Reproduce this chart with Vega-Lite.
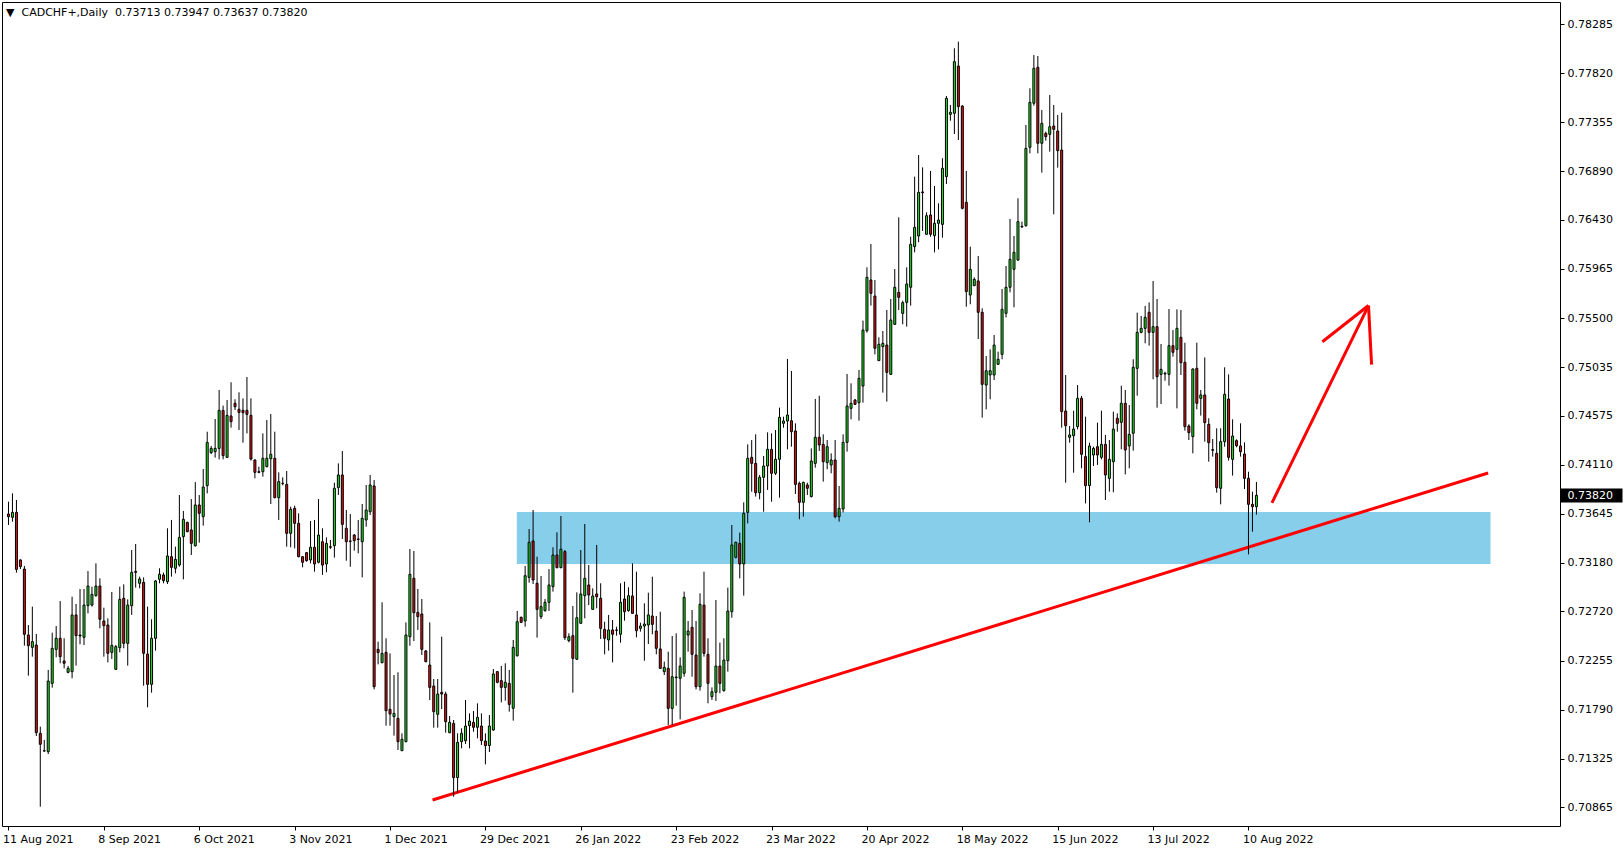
{
"$schema": "https://vega.github.io/schema/vega-lite/v6.json",
"width": 1558, "height": 824,
"autosize": {"type": "none"},
"padding": {"left": 2, "top": 2, "right": 64, "bottom": 24},
"background": "white",
"config": {"view": {"stroke": "black", "strokeWidth": 1}, "font": "DejaVu Sans"},
"title": {"text": "▼\u00a0\u00a0CADCHF+,Daily\u00a0\u00a00.73713 0.73947 0.73637 0.73820", "anchor": "start", "frame": "group", "orient": "top", "offset": -16, "font": "DejaVu Sans", "fontSize": 11, "fontWeight": "normal", "color": "black", "dx": 4},
"datasets": {
"zone": [{"x": 127.9, "x2": 372.9, "y": 0.73662, "y2": 0.7317}],
"lines": [
{"name": "trend", "x": 106.7, "y": 0.70934, "x2": 372.3, "y2": 0.74032},
{"name": "arrow", "x": 317.9, "y": 0.73748, "x2": 342.2, "y2": 0.75618},
{"name": "head1", "x": 330.6, "y": 0.75275, "x2": 342.2, "y2": 0.75618},
{"name": "head2", "x": 342.2, "y": 0.75618, "x2": 342.97, "y2": 0.75059}
],
"candles": [
{"bar":0,"open":0.73643,"high":0.7376,"low":0.73539,"close":0.73618},
{"bar":1,"open":0.73612,"high":0.73839,"low":0.73571,"close":0.73659},
{"bar":2,"open":0.73659,"high":0.73776,"low":0.73088,"close":0.73119},
{"bar":3,"open":0.73208,"high":0.73214,"low":0.73122,"close":0.73145},
{"bar":4,"open":0.73122,"high":0.73151,"low":0.72396,"close":0.72504},
{"bar":5,"open":0.72497,"high":0.72592,"low":0.72112,"close":0.72396},
{"bar":6,"open":0.7238,"high":0.72766,"low":0.72292,"close":0.72434},
{"bar":7,"open":0.72402,"high":0.72507,"low":0.7154,"close":0.71572},
{"bar":8,"open":0.71566,"high":0.71629,"low":0.70871,"close":0.71462},
{"bar":9,"open":0.71398,"high":0.71503,"low":0.71392,"close":0.71401},
{"bar":10,"open":0.71392,"high":0.72166,"low":0.7137,"close":0.72061},
{"bar":11,"open":0.72039,"high":0.72519,"low":0.71998,"close":0.72371},
{"bar":12,"open":0.72361,"high":0.72582,"low":0.72286,"close":0.72466},
{"bar":13,"open":0.72466,"high":0.72819,"low":0.72229,"close":0.72292},
{"bar":14,"open":0.72251,"high":0.72466,"low":0.72181,"close":0.72229},
{"bar":15,"open":0.72144,"high":0.72204,"low":0.72134,"close":0.72181},
{"bar":16,"open":0.7215,"high":0.7286,"low":0.72087,"close":0.72687},
{"bar":17,"open":0.72687,"high":0.72791,"low":0.72207,"close":0.72491},
{"bar":18,"open":0.72497,"high":0.72933,"low":0.72409,"close":0.72488},
{"bar":19,"open":0.72475,"high":0.72933,"low":0.72402,"close":0.72781},
{"bar":20,"open":0.72775,"high":0.73103,"low":0.72702,"close":0.72961},
{"bar":21,"open":0.72781,"high":0.72955,"low":0.72766,"close":0.72882},
{"bar":22,"open":0.7287,"high":0.73176,"low":0.7286,"close":0.72961},
{"bar":23,"open":0.72961,"high":0.73034,"low":0.7256,"close":0.72646},
{"bar":24,"open":0.7263,"high":0.72756,"low":0.72292,"close":0.72586},
{"bar":25,"open":0.72592,"high":0.72655,"low":0.72238,"close":0.72324},
{"bar":26,"open":0.72333,"high":0.72905,"low":0.7227,"close":0.72399},
{"bar":27,"open":0.72172,"high":0.72402,"low":0.72166,"close":0.72387},
{"bar":28,"open":0.72377,"high":0.72955,"low":0.72333,"close":0.72835},
{"bar":29,"open":0.72845,"high":0.72977,"low":0.72371,"close":0.72418},
{"bar":30,"open":0.72418,"high":0.72835,"low":0.72207,"close":0.72781},
{"bar":31,"open":0.72775,"high":0.73302,"low":0.72687,"close":0.73091},
{"bar":32,"open":0.731,"high":0.73359,"low":0.72946,"close":0.73091},
{"bar":33,"open":0.72987,"high":0.7305,"low":0.72939,"close":0.73028},
{"bar":34,"open":0.72996,"high":0.73043,"low":0.72017,"close":0.72324},
{"bar":35,"open":0.72317,"high":0.72766,"low":0.71812,"close":0.7203},
{"bar":36,"open":0.7203,"high":0.72646,"low":0.71951,"close":0.72466},
{"bar":37,"open":0.72466,"high":0.73018,"low":0.72349,"close":0.73009},
{"bar":38,"open":0.73025,"high":0.73129,"low":0.72987,"close":0.73072},
{"bar":39,"open":0.73066,"high":0.73088,"low":0.72987,"close":0.73012},
{"bar":40,"open":0.73002,"high":0.73508,"low":0.7298,"close":0.73246},
{"bar":41,"open":0.73239,"high":0.73587,"low":0.7305,"close":0.73138},
{"bar":42,"open":0.73129,"high":0.73334,"low":0.73081,"close":0.73214},
{"bar":43,"open":0.7316,"high":0.73823,"low":0.73144,"close":0.73422},
{"bar":44,"open":0.73429,"high":0.73672,"low":0.73024,"close":0.73593},
{"bar":45,"open":0.73564,"high":0.73571,"low":0.7347,"close":0.73476},
{"bar":46,"open":0.73492,"high":0.73785,"low":0.73255,"close":0.73365},
{"bar":47,"open":0.73343,"high":0.73946,"low":0.73334,"close":0.73729},
{"bar":48,"open":0.73729,"high":0.73823,"low":0.73372,"close":0.7365},
{"bar":49,"open":0.73618,"high":0.7407,"low":0.73533,"close":0.73899},
{"bar":50,"open":0.73912,"high":0.74423,"low":0.73839,"close":0.74322},
{"bar":51,"open":0.74224,"high":0.74287,"low":0.74212,"close":0.74265},
{"bar":52,"open":0.74234,"high":0.74543,"low":0.74177,"close":0.74265},
{"bar":53,"open":0.74265,"high":0.74818,"low":0.74161,"close":0.74625},
{"bar":54,"open":0.74625,"high":0.7467,"low":0.74161,"close":0.74196},
{"bar":55,"open":0.7418,"high":0.74723,"low":0.74174,"close":0.74578},
{"bar":56,"open":0.74572,"high":0.74891,"low":0.74461,"close":0.74518},
{"bar":57,"open":0.74692,"high":0.7473,"low":0.74629,"close":0.7466},
{"bar":58,"open":0.74635,"high":0.74796,"low":0.74439,"close":0.74606},
{"bar":59,"open":0.74625,"high":0.74739,"low":0.74319,"close":0.74603},
{"bar":60,"open":0.74625,"high":0.74941,"low":0.74407,"close":0.74587},
{"bar":61,"open":0.74578,"high":0.74739,"low":0.74149,"close":0.74164},
{"bar":62,"open":0.74155,"high":0.74161,"low":0.73981,"close":0.74038},
{"bar":63,"open":0.74044,"high":0.74092,"low":0.74029,"close":0.74038},
{"bar":64,"open":0.74044,"high":0.74407,"low":0.73997,"close":0.74171},
{"bar":65,"open":0.74092,"high":0.74534,"low":0.74085,"close":0.74171},
{"bar":66,"open":0.74167,"high":0.74591,"low":0.73738,"close":0.74209},
{"bar":67,"open":0.74171,"high":0.74423,"low":0.73792,"close":0.73798},
{"bar":68,"open":0.73798,"high":0.74038,"low":0.73587,"close":0.7395},
{"bar":69,"open":0.73934,"high":0.73991,"low":0.73915,"close":0.73931},
{"bar":70,"open":0.73924,"high":0.74051,"low":0.73334,"close":0.7346},
{"bar":71,"open":0.7346,"high":0.73713,"low":0.73328,"close":0.73688},
{"bar":72,"open":0.73697,"high":0.73722,"low":0.73318,"close":0.73555},
{"bar":73,"open":0.73555,"high":0.7365,"low":0.73233,"close":0.73239},
{"bar":74,"open":0.73239,"high":0.73245,"low":0.73138,"close":0.73186},
{"bar":75,"open":0.73277,"high":0.73283,"low":0.73192,"close":0.73201},
{"bar":76,"open":0.73208,"high":0.73577,"low":0.73176,"close":0.73328},
{"bar":77,"open":0.73328,"high":0.73587,"low":0.73097,"close":0.7317},
{"bar":78,"open":0.73186,"high":0.73785,"low":0.73176,"close":0.73444},
{"bar":79,"open":0.73381,"high":0.73508,"low":0.73066,"close":0.7316},
{"bar":80,"open":0.7317,"high":0.73422,"low":0.73091,"close":0.73365},
{"bar":81,"open":0.73334,"high":0.73397,"low":0.73312,"close":0.73328},
{"bar":82,"open":0.73343,"high":0.7394,"low":0.7323,"close":0.73887},
{"bar":83,"open":0.73893,"high":0.74123,"low":0.73823,"close":0.74013},
{"bar":84,"open":0.74013,"high":0.7424,"low":0.73407,"close":0.73545},
{"bar":85,"open":0.73508,"high":0.73681,"low":0.73201,"close":0.73381},
{"bar":86,"open":0.73388,"high":0.73643,"low":0.73144,"close":0.73384},
{"bar":87,"open":0.73444,"high":0.73454,"low":0.73296,"close":0.73391},
{"bar":88,"open":0.73407,"high":0.73587,"low":0.73271,"close":0.73403},
{"bar":89,"open":0.73381,"high":0.73738,"low":0.73043,"close":0.73602},
{"bar":90,"open":0.73587,"high":0.73918,"low":0.73523,"close":0.73681},
{"bar":91,"open":0.73665,"high":0.74013,"low":0.73634,"close":0.73918},
{"bar":92,"open":0.73909,"high":0.73965,"low":0.71982,"close":0.72008},
{"bar":93,"open":0.72361,"high":0.72434,"low":0.72219,"close":0.7233},
{"bar":94,"open":0.72235,"high":0.72807,"low":0.72229,"close":0.72323},
{"bar":95,"open":0.72333,"high":0.72466,"low":0.71638,"close":0.7178},
{"bar":96,"open":0.71793,"high":0.72323,"low":0.71638,"close":0.71749},
{"bar":97,"open":0.71724,"high":0.72118,"low":0.71544,"close":0.71755},
{"bar":98,"open":0.71708,"high":0.72144,"low":0.71408,"close":0.71487},
{"bar":99,"open":0.71401,"high":0.71566,"low":0.71401,"close":0.71509},
{"bar":100,"open":0.71487,"high":0.72617,"low":0.7148,"close":0.72497},
{"bar":101,"open":0.72481,"high":0.73312,"low":0.72396,"close":0.73072},
{"bar":102,"open":0.73034,"high":0.73293,"low":0.7244,"close":0.72709},
{"bar":103,"open":0.72712,"high":0.72933,"low":0.72545,"close":0.72671},
{"bar":104,"open":0.72696,"high":0.72838,"low":0.72308,"close":0.72361},
{"bar":105,"open":0.72346,"high":0.72355,"low":0.72238,"close":0.72245},
{"bar":106,"open":0.72213,"high":0.72617,"low":0.71881,"close":0.72001},
{"bar":107,"open":0.72014,"high":0.7208,"low":0.71619,"close":0.71771},
{"bar":108,"open":0.71746,"high":0.7208,"low":0.71619,"close":0.71938},
{"bar":109,"open":0.71954,"high":0.72481,"low":0.71796,"close":0.71938},
{"bar":110,"open":0.71938,"high":0.7196,"low":0.71572,"close":0.71676},
{"bar":111,"open":0.71572,"high":0.7173,"low":0.71566,"close":0.7167},
{"bar":112,"open":0.7166,"high":0.71692,"low":0.70966,"close":0.71146},
{"bar":113,"open":0.71146,"high":0.71566,"low":0.71004,"close":0.7148},
{"bar":114,"open":0.71487,"high":0.71613,"low":0.71424,"close":0.71566},
{"bar":115,"open":0.71496,"high":0.71881,"low":0.71465,"close":0.71635},
{"bar":116,"open":0.71638,"high":0.71755,"low":0.71424,"close":0.71682},
{"bar":117,"open":0.7167,"high":0.71777,"low":0.71581,"close":0.71623},
{"bar":118,"open":0.71623,"high":0.7185,"low":0.71518,"close":0.71717},
{"bar":119,"open":0.71635,"high":0.71755,"low":0.71455,"close":0.71496},
{"bar":120,"open":0.71493,"high":0.71566,"low":0.71272,"close":0.71449},
{"bar":121,"open":0.7145,"high":0.71739,"low":0.71389,"close":0.71635},
{"bar":122,"open":0.71597,"high":0.72175,"low":0.71591,"close":0.72128},
{"bar":123,"open":0.7215,"high":0.72156,"low":0.72039,"close":0.72049},
{"bar":124,"open":0.72065,"high":0.72204,"low":0.71859,"close":0.72001},
{"bar":125,"open":0.72001,"high":0.72229,"low":0.71875,"close":0.72049},
{"bar":126,"open":0.72039,"high":0.72166,"low":0.71771,"close":0.7184},
{"bar":127,"open":0.71803,"high":0.7245,"low":0.71686,"close":0.7238},
{"bar":128,"open":0.72301,"high":0.72725,"low":0.72292,"close":0.72623},
{"bar":129,"open":0.72665,"high":0.72671,"low":0.72614,"close":0.72617},
{"bar":130,"open":0.7263,"high":0.73151,"low":0.72576,"close":0.73059},
{"bar":131,"open":0.73043,"high":0.73501,"low":0.72993,"close":0.73375},
{"bar":132,"open":0.73388,"high":0.73681,"low":0.7298,"close":0.73018},
{"bar":133,"open":0.72987,"high":0.73239,"low":0.72472,"close":0.7274},
{"bar":134,"open":0.72671,"high":0.73056,"low":0.72649,"close":0.72766},
{"bar":135,"open":0.72728,"high":0.72838,"low":0.72718,"close":0.72807},
{"bar":136,"open":0.72807,"high":0.73122,"low":0.72725,"close":0.72971},
{"bar":137,"open":0.72955,"high":0.73328,"low":0.72908,"close":0.73255},
{"bar":138,"open":0.73255,"high":0.7347,"low":0.73129,"close":0.73135},
{"bar":139,"open":0.73135,"high":0.73624,"low":0.73129,"close":0.73309},
{"bar":140,"open":0.73287,"high":0.73302,"low":0.7245,"close":0.72472},
{"bar":141,"open":0.72444,"high":0.72513,"low":0.72428,"close":0.72481},
{"bar":142,"open":0.72491,"high":0.72772,"low":0.71951,"close":0.72276},
{"bar":143,"open":0.72267,"high":0.72901,"low":0.7226,"close":0.72661},
{"bar":144,"open":0.72608,"high":0.73302,"low":0.72601,"close":0.72886},
{"bar":145,"open":0.7287,"high":0.73549,"low":0.72655,"close":0.73034},
{"bar":146,"open":0.72971,"high":0.7316,"low":0.72781,"close":0.72876},
{"bar":147,"open":0.7274,"high":0.72939,"low":0.72734,"close":0.72867},
{"bar":148,"open":0.72886,"high":0.7335,"low":0.7275,"close":0.7286},
{"bar":149,"open":0.72845,"high":0.72987,"low":0.72459,"close":0.7256},
{"bar":150,"open":0.72551,"high":0.72623,"low":0.72314,"close":0.72466},
{"bar":151,"open":0.7245,"high":0.72687,"low":0.72349,"close":0.72545},
{"bar":152,"open":0.72545,"high":0.72639,"low":0.72238,"close":0.72504},
{"bar":153,"open":0.72545,"high":0.72576,"low":0.72491,"close":0.72541},
{"bar":154,"open":0.72504,"high":0.72987,"low":0.72425,"close":0.72807},
{"bar":155,"open":0.72838,"high":0.73002,"low":0.72633,"close":0.72718},
{"bar":156,"open":0.72728,"high":0.72949,"low":0.72718,"close":0.7287},
{"bar":157,"open":0.72867,"high":0.73176,"low":0.72696,"close":0.72702},
{"bar":158,"open":0.72687,"high":0.73097,"low":0.72475,"close":0.72538},
{"bar":159,"open":0.7256,"high":0.72614,"low":0.72529,"close":0.72582},
{"bar":160,"open":0.72582,"high":0.72797,"low":0.72254,"close":0.72601},
{"bar":161,"open":0.72592,"high":0.72898,"low":0.72412,"close":0.72687},
{"bar":162,"open":0.72677,"high":0.7305,"low":0.72504,"close":0.72598},
{"bar":163,"open":0.72535,"high":0.72677,"low":0.72314,"close":0.72371},
{"bar":164,"open":0.72365,"high":0.72718,"low":0.72175,"close":0.72181},
{"bar":165,"open":0.7215,"high":0.72245,"low":0.72118,"close":0.72191},
{"bar":166,"open":0.72181,"high":0.72339,"low":0.71645,"close":0.71802},
{"bar":167,"open":0.71802,"high":0.72488,"low":0.71645,"close":0.72102},
{"bar":168,"open":0.72099,"high":0.72513,"low":0.71828,"close":0.72093},
{"bar":169,"open":0.72087,"high":0.72286,"low":0.71698,"close":0.72203},
{"bar":170,"open":0.72134,"high":0.72908,"low":0.72102,"close":0.72854},
{"bar":171,"open":0.72497,"high":0.7263,"low":0.72339,"close":0.72535},
{"bar":172,"open":0.7257,"high":0.72734,"low":0.72102,"close":0.72314},
{"bar":173,"open":0.72308,"high":0.7263,"low":0.71982,"close":0.72008},
{"bar":174,"open":0.72008,"high":0.72892,"low":0.7197,"close":0.72788},
{"bar":175,"open":0.72781,"high":0.73097,"low":0.72292,"close":0.72323},
{"bar":176,"open":0.72314,"high":0.72466,"low":0.7185,"close":0.72039},
{"bar":177,"open":0.71913,"high":0.72001,"low":0.71881,"close":0.7196},
{"bar":178,"open":0.71954,"high":0.72829,"low":0.71872,"close":0.72203},
{"bar":179,"open":0.72203,"high":0.72425,"low":0.71945,"close":0.72039},
{"bar":180,"open":0.7197,"high":0.72466,"low":0.7196,"close":0.7226},
{"bar":181,"open":0.72254,"high":0.72946,"low":0.7215,"close":0.72724},
{"bar":182,"open":0.72718,"high":0.73539,"low":0.72661,"close":0.7335},
{"bar":183,"open":0.73233,"high":0.73381,"low":0.73223,"close":0.73375},
{"bar":184,"open":0.73365,"high":0.73467,"low":0.73034,"close":0.7317},
{"bar":185,"open":0.7317,"high":0.73754,"low":0.7287,"close":0.7365},
{"bar":186,"open":0.73659,"high":0.74303,"low":0.73555,"close":0.74171},
{"bar":187,"open":0.7418,"high":0.74344,"low":0.73855,"close":0.74123},
{"bar":188,"open":0.74123,"high":0.74398,"low":0.73808,"close":0.73845},
{"bar":189,"open":0.73845,"high":0.74013,"low":0.73782,"close":0.73991},
{"bar":190,"open":0.73991,"high":0.74193,"low":0.73665,"close":0.74098},
{"bar":191,"open":0.74098,"high":0.74417,"low":0.73871,"close":0.74256},
{"bar":192,"open":0.74256,"high":0.74407,"low":0.7376,"close":0.74029},
{"bar":193,"open":0.74029,"high":0.74439,"low":0.74013,"close":0.74161},
{"bar":194,"open":0.74161,"high":0.74651,"low":0.73798,"close":0.74559},
{"bar":195,"open":0.74502,"high":0.74565,"low":0.74461,"close":0.74524},
{"bar":196,"open":0.74524,"high":0.75112,"low":0.74256,"close":0.74581},
{"bar":197,"open":0.74527,"high":0.74998,"low":0.74281,"close":0.74423},
{"bar":198,"open":0.7443,"high":0.74502,"low":0.73833,"close":0.73924},
{"bar":199,"open":0.73934,"high":0.7395,"low":0.73593,"close":0.73754},
{"bar":200,"open":0.73754,"high":0.7395,"low":0.73618,"close":0.73943},
{"bar":201,"open":0.73918,"high":0.7394,"low":0.73823,"close":0.73887},
{"bar":202,"open":0.73808,"high":0.74265,"low":0.73801,"close":0.74145},
{"bar":203,"open":0.74123,"high":0.74733,"low":0.74082,"close":0.7437},
{"bar":204,"open":0.7437,"high":0.74764,"low":0.7424,"close":0.74297},
{"bar":205,"open":0.74303,"high":0.74398,"low":0.7395,"close":0.74139},
{"bar":206,"open":0.7413,"high":0.74344,"low":0.74067,"close":0.74281},
{"bar":207,"open":0.74108,"high":0.74218,"low":0.74029,"close":0.74155},
{"bar":208,"open":0.74155,"high":0.74344,"low":0.73602,"close":0.73618},
{"bar":209,"open":0.73618,"high":0.73909,"low":0.73571,"close":0.73697},
{"bar":210,"open":0.73691,"high":0.74398,"low":0.73659,"close":0.74322},
{"bar":211,"open":0.74322,"high":0.7497,"low":0.74234,"close":0.74666},
{"bar":212,"open":0.74644,"high":0.74881,"low":0.7454,"close":0.74692},
{"bar":213,"open":0.74723,"high":0.74733,"low":0.74676,"close":0.74682},
{"bar":214,"open":0.74698,"high":0.75008,"low":0.74528,"close":0.74929},
{"bar":215,"open":0.74856,"high":0.75475,"low":0.74698,"close":0.75386},
{"bar":216,"open":0.7538,"high":0.7598,"low":0.75361,"close":0.75885},
{"bar":217,"open":0.7586,"high":0.76201,"low":0.75617,"close":0.75734},
{"bar":218,"open":0.75708,"high":0.7586,"low":0.75156,"close":0.75213},
{"bar":219,"open":0.75096,"high":0.75317,"low":0.75093,"close":0.75251},
{"bar":220,"open":0.75229,"high":0.75377,"low":0.74793,"close":0.7526},
{"bar":221,"open":0.75244,"high":0.75576,"low":0.74708,"close":0.74985},
{"bar":222,"open":0.74966,"high":0.7568,"low":0.7496,"close":0.75481},
{"bar":223,"open":0.7544,"high":0.75964,"low":0.75434,"close":0.75791},
{"bar":224,"open":0.75743,"high":0.76454,"low":0.75576,"close":0.75696},
{"bar":225,"open":0.75544,"high":0.75664,"low":0.7544,"close":0.75645},
{"bar":226,"open":0.75648,"high":0.7598,"low":0.75418,"close":0.75822},
{"bar":227,"open":0.75791,"high":0.7627,"low":0.75617,"close":0.76198},
{"bar":228,"open":0.76176,"high":0.76839,"low":0.76122,"close":0.76359},
{"bar":229,"open":0.76277,"high":0.77044,"low":0.76217,"close":0.7669},
{"bar":230,"open":0.76694,"high":0.76927,"low":0.76324,"close":0.76687},
{"bar":231,"open":0.76293,"high":0.76501,"low":0.76286,"close":0.76469},
{"bar":232,"open":0.76476,"high":0.76893,"low":0.7627,"close":0.76293},
{"bar":233,"open":0.7628,"high":0.7675,"low":0.76122,"close":0.76397},
{"bar":234,"open":0.76397,"high":0.76587,"low":0.7615,"close":0.76428},
{"bar":235,"open":0.76387,"high":0.77013,"low":0.76261,"close":0.76918},
{"bar":236,"open":0.76839,"high":0.77603,"low":0.76769,"close":0.77581},
{"bar":237,"open":0.77429,"high":0.77518,"low":0.77369,"close":0.77448},
{"bar":238,"open":0.77439,"high":0.78055,"low":0.77243,"close":0.77928},
{"bar":239,"open":0.77887,"high":0.78118,"low":0.77186,"close":0.77502},
{"bar":240,"open":0.77508,"high":0.77515,"low":0.76529,"close":0.76539},
{"bar":241,"open":0.76596,"high":0.76893,"low":0.75607,"close":0.7575},
{"bar":242,"open":0.75718,"high":0.76176,"low":0.7563,"close":0.75961},
{"bar":243,"open":0.75806,"high":0.75885,"low":0.75803,"close":0.75866},
{"bar":244,"open":0.75851,"high":0.76087,"low":0.75301,"close":0.75554},
{"bar":245,"open":0.75554,"high":0.75592,"low":0.74556,"close":0.74872},
{"bar":246,"open":0.74865,"high":0.7514,"low":0.74635,"close":0.75001},
{"bar":247,"open":0.7496,"high":0.75203,"low":0.7473,"close":0.75001},
{"bar":248,"open":0.7496,"high":0.75339,"low":0.74913,"close":0.75244},
{"bar":249,"open":0.75061,"high":0.75181,"low":0.75055,"close":0.75109},
{"bar":250,"open":0.75156,"high":0.75775,"low":0.75109,"close":0.75582},
{"bar":251,"open":0.75544,"high":0.75993,"low":0.75506,"close":0.75791},
{"bar":252,"open":0.75791,"high":0.76438,"low":0.75743,"close":0.76056},
{"bar":253,"open":0.75961,"high":0.76277,"low":0.75601,"close":0.76122},
{"bar":254,"open":0.76049,"high":0.76634,"low":0.76043,"close":0.76413},
{"bar":255,"open":0.76368,"high":0.76413,"low":0.76356,"close":0.76362},
{"bar":256,"open":0.76375,"high":0.77328,"low":0.76365,"close":0.77107},
{"bar":257,"open":0.77117,"high":0.77676,"low":0.7706,"close":0.77543},
{"bar":258,"open":0.77534,"high":0.77991,"low":0.77511,"close":0.77865},
{"bar":259,"open":0.77875,"high":0.77982,"low":0.7706,"close":0.77155},
{"bar":260,"open":0.77155,"high":0.7747,"low":0.76877,"close":0.77344},
{"bar":261,"open":0.77249,"high":0.77265,"low":0.7718,"close":0.77218},
{"bar":262,"open":0.7724,"high":0.77612,"low":0.77076,"close":0.77312},
{"bar":263,"open":0.77319,"high":0.77518,"low":0.76482,"close":0.77287},
{"bar":264,"open":0.77271,"high":0.77423,"low":0.76924,"close":0.77085},
{"bar":265,"open":0.77091,"high":0.77445,"low":0.74461,"close":0.74613},
{"bar":266,"open":0.74619,"high":0.7496,"low":0.7394,"close":0.7448},
{"bar":267,"open":0.7437,"high":0.74477,"low":0.74319,"close":0.74392},
{"bar":268,"open":0.74385,"high":0.74622,"low":0.74035,"close":0.74448},
{"bar":269,"open":0.74471,"high":0.74865,"low":0.74445,"close":0.74739},
{"bar":270,"open":0.74739,"high":0.74761,"low":0.74076,"close":0.74209},
{"bar":271,"open":0.74187,"high":0.74565,"low":0.73744,"close":0.73912},
{"bar":272,"open":0.73912,"high":0.74319,"low":0.73565,"close":0.74288},
{"bar":273,"open":0.74202,"high":0.74281,"low":0.74098,"close":0.74265},
{"bar":274,"open":0.74281,"high":0.74509,"low":0.74108,"close":0.74202},
{"bar":275,"open":0.7418,"high":0.74622,"low":0.74161,"close":0.74303},
{"bar":276,"open":0.74303,"high":0.74392,"low":0.73776,"close":0.74013},
{"bar":277,"open":0.73981,"high":0.74344,"low":0.73855,"close":0.74161},
{"bar":278,"open":0.74139,"high":0.74613,"low":0.73849,"close":0.74448},
{"bar":279,"open":0.7455,"high":0.74597,"low":0.74423,"close":0.74502},
{"bar":280,"open":0.74512,"high":0.74859,"low":0.74256,"close":0.74692},
{"bar":281,"open":0.74692,"high":0.74818,"low":0.74019,"close":0.7425},
{"bar":282,"open":0.74288,"high":0.74676,"low":0.74076,"close":0.74398},
{"bar":283,"open":0.74408,"high":0.75109,"low":0.74243,"close":0.75033},
{"bar":284,"open":0.75023,"high":0.75551,"low":0.74764,"close":0.75364},
{"bar":285,"open":0.75364,"high":0.75519,"low":0.75355,"close":0.75402},
{"bar":286,"open":0.75402,"high":0.75614,"low":0.7526,"close":0.75506},
{"bar":287,"open":0.75554,"high":0.75648,"low":0.75238,"close":0.75364},
{"bar":288,"open":0.75364,"high":0.75851,"low":0.74919,"close":0.75418},
{"bar":289,"open":0.75418,"high":0.7568,"low":0.74651,"close":0.74944},
{"bar":290,"open":0.74966,"high":0.75254,"low":0.74685,"close":0.75014},
{"bar":291,"open":0.74976,"high":0.74992,"low":0.74906,"close":0.7497},
{"bar":292,"open":0.74966,"high":0.75585,"low":0.74859,"close":0.75238},
{"bar":293,"open":0.75238,"high":0.75386,"low":0.75134,"close":0.75175},
{"bar":294,"open":0.75203,"high":0.75582,"low":0.74644,"close":0.75402},
{"bar":295,"open":0.75317,"high":0.75576,"low":0.7496,"close":0.75077},
{"bar":296,"open":0.7508,"high":0.75266,"low":0.74433,"close":0.74471},
{"bar":297,"open":0.74477,"high":0.74493,"low":0.74344,"close":0.74414},
{"bar":298,"open":0.74376,"high":0.75023,"low":0.74218,"close":0.75017},
{"bar":299,"open":0.75023,"high":0.75266,"low":0.74635,"close":0.74692},
{"bar":300,"open":0.74739,"high":0.74818,"low":0.74575,"close":0.74771},
{"bar":301,"open":0.74771,"high":0.75127,"low":0.74329,"close":0.74509},
{"bar":302,"open":0.74493,"high":0.7455,"low":0.74139,"close":0.74319},
{"bar":303,"open":0.74253,"high":0.74354,"low":0.74187,"close":0.74247},
{"bar":304,"open":0.74218,"high":0.74455,"low":0.73846,"close":0.73893},
{"bar":305,"open":0.73887,"high":0.74455,"low":0.73735,"close":0.74329},
{"bar":306,"open":0.74329,"high":0.75033,"low":0.74281,"close":0.74777},
{"bar":307,"open":0.74733,"high":0.74966,"low":0.74149,"close":0.7418},
{"bar":308,"open":0.74161,"high":0.7454,"low":0.74007,"close":0.74382},
{"bar":309,"open":0.74338,"high":0.74351,"low":0.74275,"close":0.74291},
{"bar":310,"open":0.74288,"high":0.74502,"low":0.74187,"close":0.74234},
{"bar":311,"open":0.74212,"high":0.74322,"low":0.7388,"close":0.73981},
{"bar":312,"open":0.73981,"high":0.74044,"low":0.73261,"close":0.73735},
{"bar":313,"open":0.73735,"high":0.73855,"low":0.73476,"close":0.73713},
{"bar":314,"open":0.73713,"high":0.73947,"low":0.73637,"close":0.7382}
]
},
"layer": [
{
"data": {"name": "zone"},
"mark": {"type": "rect", "color": "#87CEEB", "opacity": 1},
"encoding": {
"x": {"field": "x", "type": "quantitative", "scale": {"domain": [-0.375, 389.125], "nice": false, "zero": false},
"axis": {"orient": "bottom", "title": null, "values": [0,24,48,72,96,120,144,168,192,216,240,264,288,312],
"labelExpr": "['11 Aug 2021','8 Sep 2021','6 Oct 2021','3 Nov 2021','1 Dec 2021','29 Dec 2021','26 Jan 2022','23 Feb 2022','23 Mar 2022','20 Apr 2022','18 May 2022','15 Jun 2022','13 Jul 2022','10 Aug 2022'][round(datum.value/24)]",
"domain": false, "grid": false, "ticks": true, "tickColor": "black", "tickSize": 4, "tickWidth": 1,
"labelAlign": "left", "labelBaseline": "top", "labelPadding": 3, "labelOffset": -6, "labelFont": "DejaVu Sans", "labelFontSize": 11, "labelColor": "black",
"labelOverlap": false, "labelFlush": false, "labelBound": false}},
"x2": {"field": "x2"},
"y": {"field": "y", "type": "quantitative", "scale": {"domain": [0.706879, 0.784934], "nice": false, "zero": false},
"axis": {"orient": "right", "title": null,
"values": [0.78285,0.7782,0.77355,0.7689,0.7643,0.75965,0.755,0.75035,0.74575,0.7411,0.73645,0.7318,0.7272,0.72255,0.7179,0.71325,0.70865,0.7382],
"format": ".5f", "domain": false, "grid": false, "ticks": true, "tickColor": "black",
"tickSize": {"condition": {"test": "abs(datum.value - 0.7382) < 0.000001", "value": 62}, "value": 4},
"tickWidth": {"condition": {"test": "abs(datum.value - 0.7382) < 0.000001", "value": 14}, "value": 1},
"labelColor": {"condition": {"test": "abs(datum.value - 0.7382) < 0.000001", "value": "white"}, "value": "black"},
"labelPadding": {"condition": {"test": "abs(datum.value - 0.7382) < 0.000001", "value": -55}, "value": 3},
"labelAlign": "left", "labelBaseline": "middle", "labelFont": "DejaVu Sans", "labelFontSize": 11,
"labelOverlap": false, "labelFlush": false, "labelBound": false}},
"y2": {"field": "y2"}
}
},
{
"data": {"name": "lines"},
"mark": {"type": "rule", "color": "#ff0000", "strokeWidth": 3},
"encoding": {
"x": {"field": "x", "type": "quantitative", "scale": {"domain": [-0.375, 389.125], "nice": false, "zero": false}, "axis": {"title": null}},
"x2": {"field": "x2"},
"y": {"field": "y", "type": "quantitative", "scale": {"domain": [0.706879, 0.784934], "nice": false, "zero": false}, "axis": {"title": null}},
"y2": {"field": "y2"}
}
},
{
"data": {"name": "candles"},
"mark": {"type": "rule", "color": "black", "strokeWidth": 1},
"encoding": {
"x": {"field": "bar", "type": "quantitative", "scale": {"domain": [-0.375, 389.125], "nice": false, "zero": false}, "axis": {"title": null}},
"y": {"field": "low", "type": "quantitative", "scale": {"domain": [0.706879, 0.784934], "nice": false, "zero": false}, "axis": {"title": null}},
"y2": {"field": "high"}
}
},
{
"data": {"name": "candles"},
"mark": {"type": "bar", "width": 2, "stroke": "black", "strokeWidth": 1},
"encoding": {
"x": {"field": "bar", "type": "quantitative", "scale": {"domain": [-0.375, 389.125], "nice": false, "zero": false}, "axis": {"title": null}},
"y": {"field": "open", "type": "quantitative", "scale": {"domain": [0.706879, 0.784934], "nice": false, "zero": false}, "axis": {"title": null}},
"y2": {"field": "close"},
"fill": {"condition": {"test": "datum.close < datum.open", "value": "#e01414"}, "value": "#22e622"}
}
}
]
}
